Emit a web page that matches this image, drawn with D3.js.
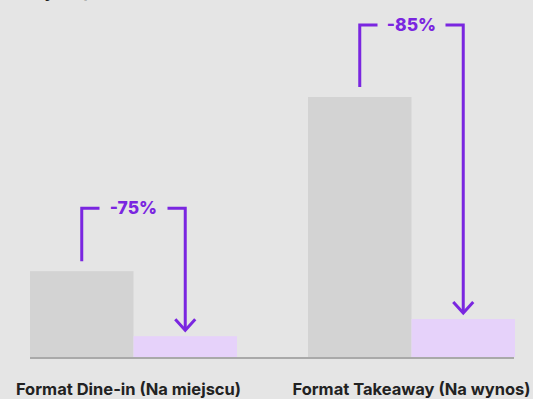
<!DOCTYPE html>
<html>
<head>
<meta charset="utf-8">
<script src="https://cdn.jsdelivr.net/npm/d3@7"></script>
<style>
  html,body{margin:0;padding:0;background:#e5e5e5;}
  #chart{width:533px;height:399px;}
  text{font-family:Inter,"Noto Sans",sans-serif;}
</style>
</head>
<body>
<div id="chart"></div>
<script>
// Zmiana: przed vs po (Dine-in / Takeaway)
const categories = ["Format Dine-in (Na miejscu)", "Format Takeaway (Na wynos)"];
const series     = ["przed", "po"];
const before     = [33, 100];
const after      = [8, 14.6];
const changes    = ["-75%", "-85%"];
const title      = "Zużycie plastiku (w tonach)";

const width = 533, height = 399;
const margin = {top:0, right:18, bottom:41, left:30};
const purple = "#7a26e0";

const svg = d3.select("#chart").append("svg")
  .attr("width", width).attr("height", height);

// tytuł (ucięty u góry, jak w oryginale)
svg.append("text")
  .attr("x", 13).attr("y", -3)
  .attr("font-size", 17).attr("font-weight", 700).attr("fill", "#222")
  .text(title);

const x0 = d3.scaleBand()
  .domain(categories)
  .range([margin.left, width - margin.right])
  .paddingInner(0.2554).paddingOuter(0);

const x1 = d3.scaleBand()
  .domain(series)
  .range([0, x0.bandwidth()])
  .padding(0);

const y = d3.scaleLinear()
  .domain([0, 100])
  .range([height - margin.bottom - 1, 97]);

const data = categories.map((c, i) => ({cat:c, vals:[
  {s:"przed", v:before[i]}, {s:"po", v:after[i]}
], change:changes[i]}));

const color = d3.scaleOrdinal().domain(series).range(["#d3d3d3", "#e6d2fa"]);

const g = svg.append("g").selectAll("g")
  .data(data).join("g")
  .attr("transform", d => `translate(${x0(d.cat)},0)`);

g.selectAll("rect")
  .data(d => d.vals).join("rect")
  .attr("x", d => x1(d.s))
  .attr("y", d => y(d.v))
  .attr("width", x1.bandwidth())
  .attr("height", d => y(0) - y(d.v))
  .attr("fill", d => color(d.s));

// oś X (linia bazowa)
svg.append("line")
  .attr("x1", margin.left).attr("x2", width - margin.right - 1)
  .attr("y1", y(0) + 1).attr("y2", y(0) + 1)
  .attr("stroke", "#a9a9a9").attr("stroke-width", 2);

// etykiety kategorii
const labelShift = [-5, 0];
svg.append("g").selectAll("text")
  .data(categories).join("text")
  .attr("x", (d, i) => x0(d) + x0.bandwidth() / 2 + labelShift[i])
  .attr("y", 395)
  .attr("text-anchor", "middle")
  .attr("font-size", 16.5).attr("font-weight", 700).attr("fill", "#222")
  .text(d => d);

// adnotacje: klamra + strzałka
const bracketRise = [63, 72];
const ann = svg.append("g");
data.forEach((d, i) => {
  const xa = x0(d.cat) + x1("przed") + x1.bandwidth() / 2;
  const xb = x0(d.cat) + x1("po") + x1.bandwidth() / 2;
  const xm = (xa + xb) / 2;
  const top = y(before[i]) - bracketRise[i];
  const startY = y(before[i]) - 10;
  const tipY = y(after[i]) - 6;
  const gap = 34;

  ann.append("path")
    .attr("d", `M${xa},${startY}V${top}H${xm - gap}`)
    .attr("fill", "none").attr("stroke", purple).attr("stroke-width", 3);
  ann.append("path")
    .attr("d", `M${xm + gap},${top}H${xb}V${tipY}`)
    .attr("fill", "none").attr("stroke", purple).attr("stroke-width", 3);
  ann.append("path")
    .attr("d", `M${xb - 10},${tipY - 11}L${xb},${tipY}L${xb + 10},${tipY - 11}`)
    .attr("fill", "none").attr("stroke", purple).attr("stroke-width", 3);
  ann.append("text")
    .attr("x", xm).attr("y", top + 6)
    .attr("text-anchor", "middle")
    .attr("font-size", 17.5).attr("font-weight", 800).attr("fill", purple)
    .text(d.change);
});
</script>
</body>
</html>
